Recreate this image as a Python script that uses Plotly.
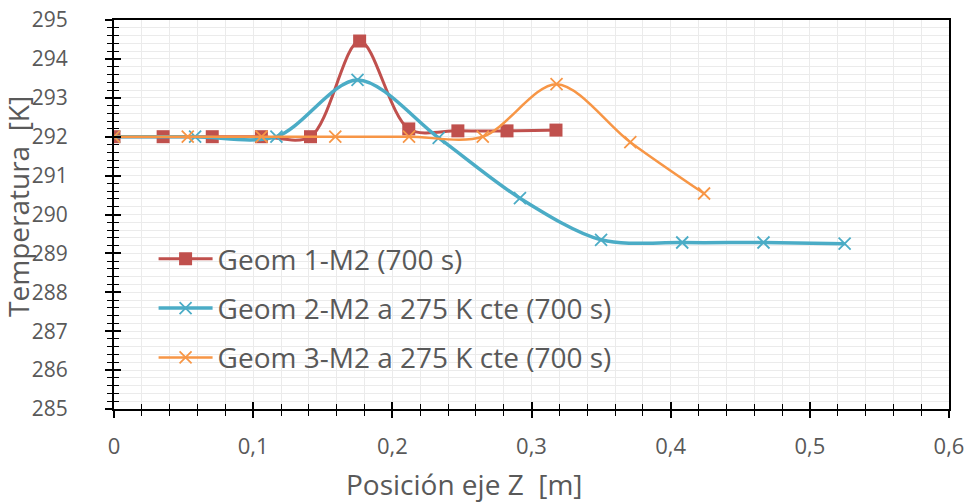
import plotly.graph_objects as go

# Temperature profiles along the Z axis for three geometries
z_geom1 = [0.0, 0.0353, 0.0706, 0.1059, 0.1412, 0.1765, 0.2118, 0.2471, 0.2824, 0.3176]
t_geom1 = [292.0, 292.0, 292.0, 292.0, 292.0, 294.46, 292.2, 292.15, 292.15, 292.17]

z_geom2 = [0.0, 0.0583, 0.1167, 0.175, 0.2333, 0.2917, 0.35, 0.4083, 0.4667, 0.525]
t_geom2 = [292.0, 292.0, 292.0, 293.46, 291.97, 290.42, 289.35, 289.28, 289.28, 289.25]

z_geom3 = [0.0, 0.053, 0.106, 0.159, 0.212, 0.265, 0.318, 0.371, 0.424]
t_geom3 = [292.0, 292.0, 292.0, 292.0, 292.0, 292.0, 293.35, 291.86, 290.54]

names = [
    "Geom 1-M2 (700 s)",
    "Geom 2-M2 a 275 K cte (700 s)",
    "Geom 3-M2 a 275 K cte (700 s)",
]
x_title = "Posición eje Z  [m]"
y_title = "Temperatura  [K]"

x_range = [0, 0.6]
y_range = [285, 295]

RED = "#C0504D"
BLUE = "#4BACC6"
ORANGE = "#F79646"
TEXT = "#595959"
GRID = "#EBEBEB"
FONT = "Open Sans"

fig = go.Figure()

fig.add_trace(go.Scatter(
    x=z_geom1, y=t_geom1, name=names[0], mode="lines+markers",
    line=dict(color=RED, width=3, shape="spline", smoothing=0.9),
    marker=dict(symbol="square", size=13, color=RED),
    legendgroup="g1",
))
fig.add_trace(go.Scatter(
    x=z_geom2, y=t_geom2, name=names[1], mode="lines+markers",
    line=dict(color=BLUE, width=3.5, shape="spline", smoothing=0.9),
    marker=dict(symbol="x-thin", size=12, line=dict(color=BLUE, width=1.8)),
    legendgroup="g2",
))
fig.add_trace(go.Scatter(
    x=z_geom3, y=t_geom3, name=names[2], mode="lines+markers",
    line=dict(color=ORANGE, width=2.5, shape="spline", smoothing=0.9),
    marker=dict(symbol="x-thin", size=12, line=dict(color=ORANGE, width=1.8)),
    legendgroup="g3",
))
# empty trace that binds the overlay axes (inner half of the crossing ticks)
fig.add_trace(go.Scatter(x=[], y=[], xaxis="x2", yaxis="y2",
                         showlegend=False, hoverinfo="skip"))

x_tick_font = dict(family=FONT, size=22, color=TEXT)
y_tick_font = dict(family=FONT, size=21, color=TEXT)
title_font = dict(family=FONT, size=28, color=TEXT)

fig.update_layout(
    width=966, height=502,
    margin=dict(l=114, r=17, t=20, b=93),
    paper_bgcolor="white", plot_bgcolor="white",
    separators=", ",
    showlegend=True,
    legend=dict(
        x=0.0474, y=0.45, xanchor="left", yanchor="top",
        bgcolor="rgba(0,0,0,0)", font=dict(family=FONT, size=28, color=TEXT),
        tracegroupgap=10, itemwidth=54,
    ),
    xaxis=dict(
        range=x_range, dtick=0.1, tick0=0,
        showgrid=True, gridcolor=GRID, gridwidth=1,
        minor=dict(dtick=0.02, showgrid=True, gridcolor=GRID, gridwidth=1,
                   ticks="outside", ticklen=5, tickcolor="black", tickwidth=1),
        ticks="outside", ticklen=7, tickwidth=1.5, tickcolor="black",
        showline=True, linecolor="black", linewidth=2, mirror=True,
        zeroline=False, tickfont=x_tick_font, ticklabelstandoff=10,
        automargin=False,
    ),
    yaxis=dict(
        range=y_range, dtick=1, tick0=285,
        showgrid=True, gridcolor=GRID, gridwidth=1,
        minor=dict(dtick=0.2, showgrid=True, gridcolor=GRID, gridwidth=1,
                   ticks="outside", ticklen=5, tickcolor="black", tickwidth=1),
        ticks="outside", ticklen=7, tickwidth=1.5, tickcolor="black",
        showline=True, linecolor="black", linewidth=2, mirror=True,
        zeroline=False, tickfont=y_tick_font, ticklabelstandoff=33,
        automargin=False,
    ),
    xaxis2=dict(
        overlaying="x", anchor="y2", side="bottom", range=x_range, dtick=0.1, tick0=0,
        showgrid=False, zeroline=False, showticklabels=False, showline=False,
        ticks="inside", ticklen=7, tickwidth=1.5, tickcolor="black",
        minor=dict(dtick=0.02, ticks="inside", ticklen=5, tickcolor="black", tickwidth=1, showgrid=False),
    ),
    yaxis2=dict(
        overlaying="y", anchor="x2", side="left", range=y_range, dtick=1, tick0=285,
        showgrid=False, zeroline=False, showticklabels=False, showline=False,
        ticks="inside", ticklen=7, tickwidth=1.5, tickcolor="black",
        minor=dict(dtick=0.2, ticks="inside", ticklen=5, tickcolor="black", tickwidth=1, showgrid=False),
    ),
    annotations=[
        dict(text=x_title, xref="paper", yref="paper", x=0.419, y=-0.193,
             xanchor="center", yanchor="middle", showarrow=False, font=title_font),
        dict(text=y_title, xref="paper", yref="paper", x=-0.115, y=0.522,
             xanchor="center", yanchor="middle", textangle=-90, showarrow=False, font=title_font),
    ],
)

fig.write_html("out.html")
